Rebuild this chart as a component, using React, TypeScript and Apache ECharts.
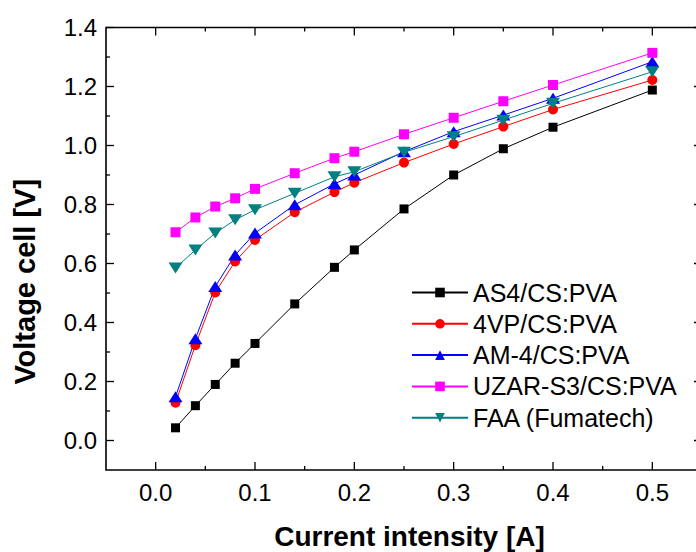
import React, { useEffect, useRef } from "react";
import * as echarts from "echarts";

const current = [0.02, 0.04, 0.06, 0.08, 0.1, 0.14, 0.18, 0.2, 0.25, 0.3, 0.35, 0.4, 0.5];
const as4 = [0.043, 0.118, 0.19, 0.262, 0.329, 0.463, 0.587, 0.646, 0.785, 0.9, 0.989, 1.062, 1.188];
const vp4 = [0.128, 0.323, 0.502, 0.607, 0.68, 0.774, 0.842, 0.874, 0.942, 1.005, 1.064, 1.122, 1.222];
const am4 = [0.148, 0.345, 0.522, 0.629, 0.703, 0.799, 0.87, 0.9, 0.979, 1.047, 1.103, 1.16, 1.284];
const uzar = [0.706, 0.756, 0.793, 0.821, 0.853, 0.906, 0.957, 0.979, 1.038, 1.094, 1.15, 1.205, 1.314];
const faa = [0.585, 0.646, 0.703, 0.748, 0.782, 0.838, 0.894, 0.911, 0.977, 1.03, 1.086, 1.143, 1.25];

const seriesNames = ["AS4/CS:PVA", "4VP/CS:PVA", "AM-4/CS:PVA", "UZAR-S3/CS:PVA", "FAA (Fumatech)"];

const xTicks = [0, 0.1, 0.2, 0.3, 0.4, 0.5];
const xMinorTicks = [0.05, 0.15, 0.25, 0.35, 0.45];
const yTicks = [0, 0.2, 0.4, 0.6, 0.8, 1.0, 1.2, 1.4];
const yMinorTicks = [0.1, 0.3, 0.5, 0.7, 0.9, 1.1, 1.3];

const X_MIN = -0.05;
const X_MAX = 0.55;
const Y_MIN = -0.1;
const Y_MAX = 1.4;

const FONT = "'Liberation Sans', Arial, sans-serif";

// one inward tick per value on one side of the frame, placed through the axes' scales
function tickSeries(side: "bottom" | "top" | "left" | "right", values: number[], len: number) {
  const isX = side === "bottom" || side === "top";
  return {
    type: "custom",
    clip: false,
    z: 10,
    data: values.map((v) => (isX ? [v, 0.5] : [0.2, v])),
    renderItem: (params: any, api: any) => {
      const style = { stroke: "#000", lineWidth: 1.3 };
      if (isX) {
        const v = api.value(0);
        const p = api.coord([v, side === "bottom" ? Y_MIN : Y_MAX]);
        const dir = side === "bottom" ? -1 : 1;
        return { type: "line", shape: { x1: p[0], y1: p[1], x2: p[0], y2: p[1] + dir * len }, style };
      }
      const v = api.value(1);
      const p = api.coord([side === "left" ? X_MIN : X_MAX, v]);
      const dir = side === "left" ? 1 : -1;
      return { type: "line", shape: { x1: p[0], y1: p[1], x2: p[0] + dir * len, y2: p[1] }, style };
    },
  };
}

export default function App() {
  const ref = useRef<HTMLDivElement>(null);
  useEffect(() => {
    if (!ref.current) return;
    const chart = echarts.init(ref.current, null, { renderer: "svg" });
    const pair = (ys: number[]) => current.map((x, i) => [x, ys[i]]);
    const mk = (name: string, data: number[], color: string, symbol: string, size: any, rotate = 0) => ({
      type: "line",
      name,
      data: pair(data),
      symbol,
      symbolSize: size,
      symbolRotate: rotate,
      showAllSymbol: true,
      z: 3,
      lineStyle: { color, width: 1 },
      itemStyle: { color },
    });
    chart.setOption({
      animation: false,
      textStyle: { fontFamily: FONT },
      grid: {
        left: 106,
        top: 27.5,
        bottom: 82,
        right: -6,
        show: true,
        borderColor: "#000",
        borderWidth: 1.6,
        backgroundColor: "transparent",
        outerBoundsMode: "none",
        containLabel: false,
      },
      legend: {
        orient: "vertical",
        left: 406,
        top: 275,
        itemWidth: 56,
        itemHeight: 12,
        itemGap: 6.3,
        data: seriesNames,
        textStyle: { fontSize: 25, color: "#000", fontFamily: FONT, lineHeight: 24 },
      },
      xAxis: {
        type: "value",
        position: "bottom",
        min: X_MIN,
        max: X_MAX,
        splitLine: { show: false },
        axisLine: { show: false, onZero: false },
        axisTick: { show: false },
        axisLabel: {
          show: true,
          customValues: xTicks.slice(),
          formatter: (v: number) => v.toFixed(1),
          fontSize: 24,
          color: "#000",
          margin: 10,
          fontFamily: FONT,
        },
        name: "Current intensity [A]",
        nameLocation: "middle",
        nameGap: 52,
        nameTextStyle: { fontSize: 28, fontWeight: "bold", color: "#000", fontFamily: FONT, padding: [0, 0, 0, 11] },
      },
      yAxis: {
        type: "value",
        position: "left",
        min: Y_MIN,
        max: Y_MAX,
        splitLine: { show: false },
        axisLine: { show: false, onZero: false },
        axisTick: { show: false },
        axisLabel: {
          show: true,
          customValues: yTicks.slice(),
          formatter: (v: number) => v.toFixed(1),
          fontSize: 24,
          color: "#000",
          margin: 9,
          fontFamily: FONT,
        },
        name: "Voltage cell [V]",
        nameLocation: "middle",
        nameGap: 67,
        nameRotate: 90,
        nameTextStyle: { fontSize: 29, fontWeight: "bold", color: "#000", fontFamily: FONT, padding: [0, 66, 0, 0] },
      },
      series: [
        mk(seriesNames[0], as4, "#000000", "rect", 9),
        mk(seriesNames[1], vp4, "#ff0000", "circle", 10),
        mk(seriesNames[2], am4, "#0000ff", "triangle", [14, 11]),
        mk(seriesNames[3], uzar, "#ff00ff", "rect", 10),
        mk(seriesNames[4], faa, "#008080", "triangle", [14, 11], 180),
        tickSeries("bottom", xTicks, 8),
        tickSeries("bottom", xMinorTicks, 4),
        tickSeries("top", xTicks, 8),
        tickSeries("top", xMinorTicks, 4),
        tickSeries("left", yTicks, 8),
        tickSeries("left", yMinorTicks, 4),
        tickSeries("right", yTicks, 8),
      ],
    });
    return () => chart.dispose();
  }, []);
  return <div ref={ref} style={{ width: 696, height: 552, position: "absolute", left: 0, top: 0 }} />;
}
